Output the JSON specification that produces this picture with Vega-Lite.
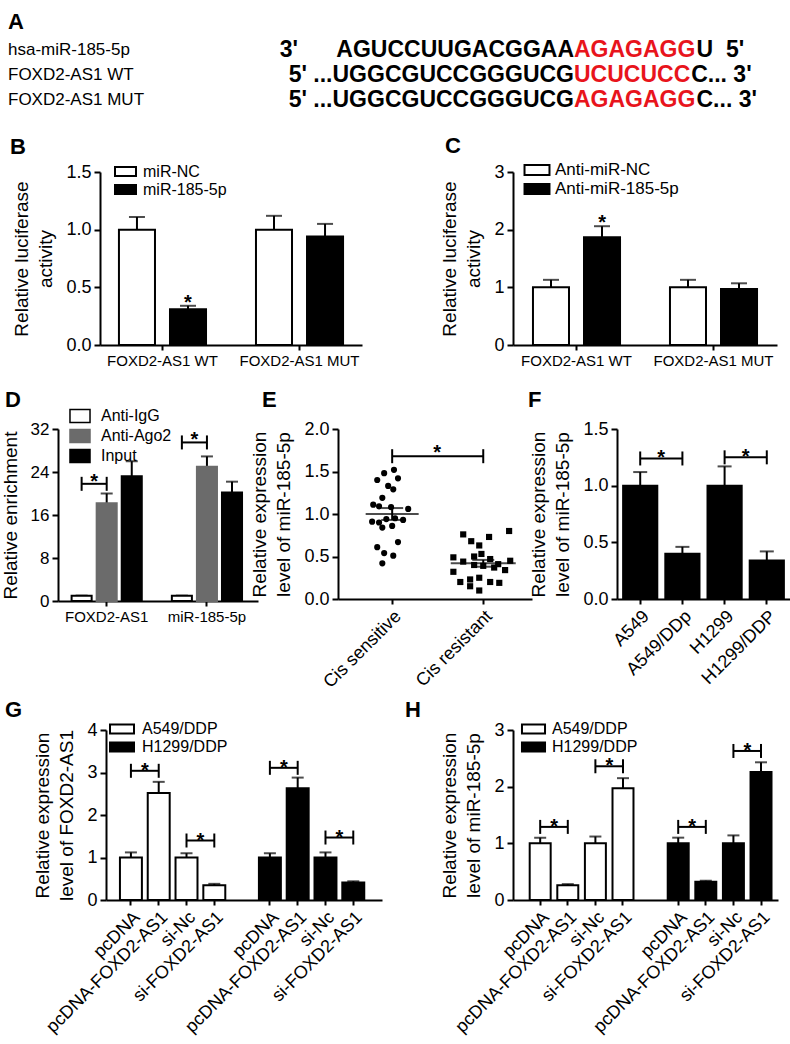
{
"$schema": "https://vega.github.io/schema/vega-lite/v6.json",
"padding": 0,
"background": "white",
"spacing": 0,
"resolve": {"scale": {"fill": "independent", "stroke": "independent", "shape": "independent", "size": "independent", "xOffset": "independent"}, "legend": {"fill": "independent", "stroke": "independent", "shape": "independent", "size": "independent"}},
"config": {
  "font": "Liberation Sans, Arial, sans-serif",
  "view": {"stroke": null},
  "axis": {"grid": false, "domainColor": "black", "domainWidth": 2, "tickColor": "black", "tickWidth": 2, "tickSize": 6, "labelColor": "black", "labelFontSize": 17, "labelPadding": 3, "titleColor": "black", "titleFontSize": 19, "titleFontWeight": "normal", "titleLineHeight": 24, "titlePadding": 10},
  "axisX": {"labelFontSize": 15, "tickSize": 5},
  "axisY": {"labelFontSize": 18},
  "legend": {"labelColor": "black", "labelFontSize": 16, "symbolStrokeColor": "black", "symbolStrokeWidth": 2, "rowPadding": 0, "padding": 0, "labelOffset": 6},
  "title": {"fontSize": 22, "fontWeight": "bold", "anchor": "start", "frame": "group", "color": "black", "offset": 8},
  "text": {"color": "black"}
},
"datasets": {
  "seq": [
    {"name": "hsa-miR-185-5p", "line": 1, "lead": "3'\u00a0\u00a0\u00a0\u00a0\u00a0\u00a0AGUCCUUGACGGAA", "site": "AGAGAGG", "tail": "U\u00a0\u00a05'"},
    {"name": "FOXD2-AS1 WT", "line": 2, "lead": "5'\u00a0...UGGCGUCCGGGUCG", "site": "UCUCUCC", "tail": "C...\u00a03'"},
    {"name": "FOXD2-AS1 MUT", "line": 3, "lead": "5'\u00a0...UGGCGUCCGGGUCG", "site": "AGAGAGG", "tail": "C...\u00a03'"}
  ],
  "dData": [
    {"key": "FOXD2-AS1|Anti-IgG", "ab": "Anti-IgG", "value": 1.0, "upper": 1.0},
    {"key": "FOXD2-AS1|Anti-Ago2", "ab": "Anti-Ago2", "value": 18.2, "upper": 20.0},
    {"key": "FOXD2-AS1|Input", "ab": "Input", "value": 23.2, "upper": 26.0},
    {"key": "miR-185-5p|Anti-IgG", "ab": "Anti-IgG", "value": 1.0, "upper": 1.0},
    {"key": "miR-185-5p|Anti-Ago2", "ab": "Anti-Ago2", "value": 25.0, "upper": 26.9},
    {"key": "miR-185-5p|Input", "ab": "Input", "value": 20.2, "upper": 22.2}
  ],
  "dBr": [
    {"id": "d1", "key": "FOXD2-AS1|Anti-IgG", "end": "L", "y": 21.8},
    {"id": "d1", "key": "FOXD2-AS1|Anti-Ago2", "end": "R", "y": 21.8},
    {"id": "d2", "key": "miR-185-5p|Anti-IgG", "end": "L", "y": 29.5},
    {"id": "d2", "key": "miR-185-5p|Anti-Ago2", "end": "R", "y": 29.5}
  ],
  "ePts": [
    {"cat": "Cis sensitive", "jit": -0.22, "val": 1.48},
    {"cat": "Cis sensitive", "jit": 0.05, "val": 1.52},
    {"cat": "Cis sensitive", "jit": -0.41, "val": 1.40},
    {"cat": "Cis sensitive", "jit": 0.16, "val": 1.42},
    {"cat": "Cis sensitive", "jit": -0.11, "val": 1.33},
    {"cat": "Cis sensitive", "jit": 0.03, "val": 1.29},
    {"cat": "Cis sensitive", "jit": -0.27, "val": 1.19},
    {"cat": "Cis sensitive", "jit": -0.52, "val": 1.11},
    {"cat": "Cis sensitive", "jit": -0.36, "val": 1.09},
    {"cat": "Cis sensitive", "jit": -0.03, "val": 1.08},
    {"cat": "Cis sensitive", "jit": 0.44, "val": 1.06},
    {"cat": "Cis sensitive", "jit": -0.55, "val": 0.91},
    {"cat": "Cis sensitive", "jit": -0.36, "val": 0.90},
    {"cat": "Cis sensitive", "jit": -0.16, "val": 0.94},
    {"cat": "Cis sensitive", "jit": 0.08, "val": 0.95},
    {"cat": "Cis sensitive", "jit": 0.30, "val": 0.93},
    {"cat": "Cis sensitive", "jit": -0.27, "val": 0.84},
    {"cat": "Cis sensitive", "jit": 0.0, "val": 0.86},
    {"cat": "Cis sensitive", "jit": -0.41, "val": 0.61},
    {"cat": "Cis sensitive", "jit": 0.16, "val": 0.67},
    {"cat": "Cis sensitive", "jit": -0.22, "val": 0.54},
    {"cat": "Cis sensitive", "jit": 0.03, "val": 0.51},
    {"cat": "Cis sensitive", "jit": -0.27, "val": 0.42},
    {"cat": "Cis resistant", "jit": -0.55, "val": 0.76},
    {"cat": "Cis resistant", "jit": 0.16, "val": 0.73},
    {"cat": "Cis resistant", "jit": 0.71, "val": 0.80},
    {"cat": "Cis resistant", "jit": -0.33, "val": 0.68},
    {"cat": "Cis resistant", "jit": -0.11, "val": 0.63},
    {"cat": "Cis resistant", "jit": -0.82, "val": 0.49},
    {"cat": "Cis resistant", "jit": -0.25, "val": 0.50},
    {"cat": "Cis resistant", "jit": -0.05, "val": 0.53},
    {"cat": "Cis resistant", "jit": 0.19, "val": 0.47},
    {"cat": "Cis resistant", "jit": 0.74, "val": 0.45},
    {"cat": "Cis resistant", "jit": -0.55, "val": 0.44},
    {"cat": "Cis resistant", "jit": 0.41, "val": 0.41},
    {"cat": "Cis resistant", "jit": -0.82, "val": 0.32},
    {"cat": "Cis resistant", "jit": -0.25, "val": 0.40},
    {"cat": "Cis resistant", "jit": 0.0, "val": 0.39},
    {"cat": "Cis resistant", "jit": 0.30, "val": 0.37},
    {"cat": "Cis resistant", "jit": 0.60, "val": 0.34},
    {"cat": "Cis resistant", "jit": -0.63, "val": 0.20},
    {"cat": "Cis resistant", "jit": -0.36, "val": 0.23},
    {"cat": "Cis resistant", "jit": -0.11, "val": 0.25},
    {"cat": "Cis resistant", "jit": 0.19, "val": 0.20},
    {"cat": "Cis resistant", "jit": 0.44, "val": 0.19},
    {"cat": "Cis resistant", "jit": -0.36, "val": 0.15},
    {"cat": "Cis resistant", "jit": -0.11, "val": 0.10}
  ],
  "eSum": [
    {"cat": "Cis sensitive", "mean": 1.0, "lo": 0.93, "hi": 1.07},
    {"cat": "Cis resistant", "mean": 0.42, "lo": 0.38, "hi": 0.46}
  ],
  "eBr": [
    {"id": "e1", "cat": "Cis sensitive", "end": "L", "y": 1.68},
    {"id": "e1", "cat": "Cis resistant", "end": "R", "y": 1.68}
  ],
  "fData": [
    {"cell": "A549", "value": 1.0, "upper": 1.12},
    {"cell": "A549/DDp", "value": 0.40, "upper": 0.46},
    {"cell": "H1299", "value": 1.0, "upper": 1.17},
    {"cell": "H1299/DDP", "value": 0.34, "upper": 0.42}
  ],
  "fBr": [
    {"id": "f1", "cell": "A549", "end": "L", "y": 1.24},
    {"id": "f1", "cell": "A549/DDp", "end": "R", "y": 1.24},
    {"id": "f2", "cell": "H1299", "end": "L", "y": 1.25},
    {"id": "f2", "cell": "H1299/DDP", "end": "R", "y": 1.25}
  ],
  "gData": [
    {"key": "A549/DDP|pcDNA", "line": "A549/DDP", "value": 1.0, "upper": 1.12},
    {"key": "A549/DDP|pcDNA-FOXD2-AS1", "line": "A549/DDP", "value": 2.52, "upper": 2.78},
    {"key": "A549/DDP|si-Nc", "line": "A549/DDP", "value": 1.0, "upper": 1.10},
    {"key": "A549/DDP|si-FOXD2-AS1", "line": "A549/DDP", "value": 0.35, "upper": 0.38},
    {"key": "H1299/DDP|pcDNA", "line": "H1299/DDP", "value": 1.0, "upper": 1.10},
    {"key": "H1299/DDP|pcDNA-FOXD2-AS1", "line": "H1299/DDP", "value": 2.63, "upper": 2.88},
    {"key": "H1299/DDP|si-Nc", "line": "H1299/DDP", "value": 1.0, "upper": 1.12},
    {"key": "H1299/DDP|si-FOXD2-AS1", "line": "H1299/DDP", "value": 0.41, "upper": 0.44}
  ],
  "gBr": [
    {"id": "g1", "key": "A549/DDP|pcDNA", "end": "L", "y": 3.04},
    {"id": "g1", "key": "A549/DDP|pcDNA-FOXD2-AS1", "end": "R", "y": 3.04},
    {"id": "g2", "key": "A549/DDP|si-Nc", "end": "L", "y": 1.40},
    {"id": "g2", "key": "A549/DDP|si-FOXD2-AS1", "end": "R", "y": 1.40},
    {"id": "g3", "key": "H1299/DDP|pcDNA", "end": "L", "y": 3.11},
    {"id": "g3", "key": "H1299/DDP|pcDNA-FOXD2-AS1", "end": "R", "y": 3.11},
    {"id": "g4", "key": "H1299/DDP|si-Nc", "end": "L", "y": 1.47},
    {"id": "g4", "key": "H1299/DDP|si-FOXD2-AS1", "end": "R", "y": 1.47}
  ],
  "hData": [
    {"key": "A549/DDP|pcDNA", "line": "A549/DDP", "value": 1.0, "upper": 1.10},
    {"key": "A549/DDP|pcDNA-FOXD2-AS1", "line": "A549/DDP", "value": 0.26, "upper": 0.28},
    {"key": "A549/DDP|si-Nc", "line": "A549/DDP", "value": 1.0, "upper": 1.12},
    {"key": "A549/DDP|si-FOXD2-AS1", "line": "A549/DDP", "value": 1.97, "upper": 2.15},
    {"key": "H1299/DDP|pcDNA", "line": "H1299/DDP", "value": 1.0, "upper": 1.10},
    {"key": "H1299/DDP|pcDNA-FOXD2-AS1", "line": "H1299/DDP", "value": 0.32, "upper": 0.34},
    {"key": "H1299/DDP|si-Nc", "line": "H1299/DDP", "value": 1.0, "upper": 1.14},
    {"key": "H1299/DDP|si-FOXD2-AS1", "line": "H1299/DDP", "value": 2.26, "upper": 2.43}
  ],
  "hBr": [
    {"id": "h1", "key": "A549/DDP|pcDNA", "end": "L", "y": 1.29},
    {"id": "h1", "key": "A549/DDP|pcDNA-FOXD2-AS1", "end": "R", "y": 1.29},
    {"id": "h2", "key": "A549/DDP|si-Nc", "end": "L", "y": 2.36},
    {"id": "h2", "key": "A549/DDP|si-FOXD2-AS1", "end": "R", "y": 2.36},
    {"id": "h3", "key": "H1299/DDP|pcDNA", "end": "L", "y": 1.29},
    {"id": "h3", "key": "H1299/DDP|pcDNA-FOXD2-AS1", "end": "R", "y": 1.29},
    {"id": "h4", "key": "H1299/DDP|si-Nc", "end": "L", "y": 2.63},
    {"id": "h4", "key": "H1299/DDP|si-FOXD2-AS1", "end": "R", "y": 2.63}
  ]
},
"vconcat": [
  {
    "width": 760, "height": 134,
    "layer": [
      {"data": {"values": [{"letter": "A"}]},
       "mark": {"type": "text", "fontSize": 22, "fontWeight": "bold", "align": "left", "baseline": "middle", "dy": -3},
       "encoding": {"text": {"field": "letter"},
         "x": {"datum": 0, "type": "quantitative", "scale": {"domain": [0, 1], "range": [8, 574]}, "axis": null},
         "y": {"datum": 0, "type": "quantitative", "scale": {"domain": [0, 3], "range": [25, 100]}, "axis": null}}},
      {"data": {"name": "seq"},
       "mark": {"type": "text", "fontSize": 17, "align": "left", "baseline": "middle"},
       "encoding": {"text": {"field": "name"},
         "x": {"datum": 0, "type": "quantitative", "scale": {"domain": [0, 1], "range": [8, 574]}, "axis": null},
         "y": {"field": "line", "type": "quantitative", "scale": {"domain": [0, 3], "range": [25, 100]}, "axis": null}}},
      {"data": {"name": "seq"},
       "mark": {"type": "text", "fontSize": 23, "fontWeight": "bold", "align": "right", "baseline": "middle", "color": "black"},
       "encoding": {"text": {"field": "lead"},
         "x": {"datum": 1, "type": "quantitative", "scale": {"domain": [0, 1], "range": [8, 574]}, "axis": null},
         "y": {"field": "line", "type": "quantitative", "scale": {"domain": [0, 3], "range": [25, 100]}, "axis": null}}},
      {"data": {"name": "seq"},
       "mark": {"type": "text", "fontSize": 23, "fontWeight": "bold", "align": "left", "baseline": "middle", "color": "#e8141c"},
       "encoding": {"text": {"field": "site"},
         "x": {"datum": 1, "type": "quantitative", "scale": {"domain": [0, 1], "range": [8, 574]}, "axis": null},
         "y": {"field": "line", "type": "quantitative", "scale": {"domain": [0, 3], "range": [25, 100]}, "axis": null}}},
      {"data": {"name": "seq"}, "transform": [{"filter": "datum.site == 'AGAGAGG'"}],
       "mark": {"type": "text", "fontSize": 23, "fontWeight": "bold", "align": "left", "baseline": "middle", "color": "black", "dx": 122.5},
       "encoding": {"text": {"field": "tail"},
         "x": {"datum": 1, "type": "quantitative", "scale": {"domain": [0, 1], "range": [8, 574]}, "axis": null},
         "y": {"field": "line", "type": "quantitative", "scale": {"domain": [0, 3], "range": [25, 100]}, "axis": null}}},
      {"data": {"name": "seq"}, "transform": [{"filter": "datum.site == 'UCUCUCC'"}],
       "mark": {"type": "text", "fontSize": 23, "fontWeight": "bold", "align": "left", "baseline": "middle", "color": "black", "dx": 117.2},
       "encoding": {"text": {"field": "tail"},
         "x": {"datum": 1, "type": "quantitative", "scale": {"domain": [0, 1], "range": [8, 574]}, "axis": null},
         "y": {"field": "line", "type": "quantitative", "scale": {"domain": [0, 3], "range": [25, 100]}, "axis": null}}}
    ]
  },
  {
    "spacing": 0, "bounds": "flush",
    "resolve": {"scale": {"fill": "independent", "stroke": "independent", "shape": "independent", "size": "independent", "xOffset": "independent"}, "legend": {"fill": "independent", "stroke": "independent", "shape": "independent", "size": "independent"}},
    "hconcat": [
      {"width": 100, "height": 217, "data": {"values": [{}]}, "mark": {"type": "point", "opacity": 0}},
      {
        "width": 262, "height": 173,
        "title": {"text": "B", "dx": -90, "offset": 4},
        "data": {"values": [
          {"group": "FOXD2-AS1 WT", "treat": "miR-NC", "value": 1.0, "upper": 1.11},
          {"group": "FOXD2-AS1 WT", "treat": "miR-185-5p", "value": 0.31, "upper": 0.34, "sig": "*"},
          {"group": "FOXD2-AS1 MUT", "treat": "miR-NC", "value": 1.0, "upper": 1.12},
          {"group": "FOXD2-AS1 MUT", "treat": "miR-185-5p", "value": 0.94, "upper": 1.05}
        ]},
        "encoding": {
          "x": {"field": "group", "type": "nominal", "sort": ["FOXD2-AS1 WT", "FOXD2-AS1 MUT"], "scale": {"paddingInner": 0.255, "paddingOuter": 0.0835}, "axis": {"title": null, "labelAngle": 0}},
          "xOffset": {"field": "treat", "type": "nominal", "sort": ["miR-NC", "miR-185-5p"], "scale": {"paddingInner": 0.294, "paddingOuter": 0.147}}
        },
        "layer": [
          {"mark": {"type": "rule", "color": "black", "strokeWidth": 2},
           "encoding": {"y": {"field": "value", "type": "quantitative", "scale": {"domain": [0, 1.5]}, "axis": {"values": [0, 0.5, 1, 1.5], "format": ".1f", "title": ["Relative luciferase", "activity"]}}, "y2": {"field": "upper"}}},
          {"mark": {"type": "tick", "color": "black", "thickness": 2, "size": 16},
           "encoding": {"y": {"field": "upper", "type": "quantitative", "scale": {"domain": [0, 1.5]}, "axis": {"values": [0, 0.5, 1, 1.5], "format": ".1f", "title": ["Relative luciferase", "activity"]}}}},
          {"mark": {"type": "bar", "stroke": "black", "strokeWidth": 2},
           "encoding": {"y": {"field": "value", "type": "quantitative", "scale": {"domain": [0, 1.5]}, "axis": {"values": [0, 0.5, 1, 1.5], "format": ".1f", "title": ["Relative luciferase", "activity"]}},
             "fill": {"field": "treat", "type": "nominal", "scale": {"domain": ["miR-NC", "miR-185-5p"], "range": ["white", "black"]},
               "legend": {"orient": "none", "legendX": 17.5, "legendY": -8.5, "title": null, "symbolType": "M-1.75,-0.75H1.75V0.75H-1.75Z", "symbolSize": 144, "symbolStrokeColor": "black", "symbolStrokeWidth": 2, "labelFontSize": 16, "labelOffset": 9.5, "rowPadding": 0}}}},
          {"transform": [{"filter": "datum.sig"}],
           "mark": {"type": "text", "text": "*", "dy": -3, "fontSize": 20, "fontWeight": "bold", "baseline": "middle"},
           "encoding": {"y": {"field": "upper", "type": "quantitative", "scale": {"domain": [0, 1.5]}, "axis": {"values": [0, 0.5, 1, 1.5], "format": ".1f", "title": ["Relative luciferase", "activity"]}}}}
        ]
      },
      {"width": 151, "height": 10, "data": {"values": [{}]}, "mark": {"type": "point", "opacity": 0}},
      {
        "width": 264, "height": 173,
        "title": {"text": "C", "dx": -68, "offset": 4},
        "data": {"values": [
          {"group": "FOXD2-AS1 WT", "treat": "Anti-miR-NC", "value": 1.0, "upper": 1.13},
          {"group": "FOXD2-AS1 WT", "treat": "Anti-miR-185-5p", "value": 1.87, "upper": 2.06, "sig": "*"},
          {"group": "FOXD2-AS1 MUT", "treat": "Anti-miR-NC", "value": 1.0, "upper": 1.13},
          {"group": "FOXD2-AS1 MUT", "treat": "Anti-miR-185-5p", "value": 0.97, "upper": 1.07}
        ]},
        "encoding": {
          "x": {"field": "group", "type": "nominal", "sort": ["FOXD2-AS1 WT", "FOXD2-AS1 MUT"], "scale": {"paddingInner": 0.255, "paddingOuter": 0.091}, "axis": {"title": null, "labelAngle": 0}},
          "xOffset": {"field": "treat", "type": "nominal", "sort": ["Anti-miR-NC", "Anti-miR-185-5p"], "scale": {"paddingInner": 0.294, "paddingOuter": 0.147}}
        },
        "layer": [
          {"mark": {"type": "rule", "color": "black", "strokeWidth": 2},
           "encoding": {"y": {"field": "value", "type": "quantitative", "scale": {"domain": [0, 3]}, "axis": {"values": [0, 1, 2, 3], "format": "d", "title": ["Relative luciferase", "activity"]}}, "y2": {"field": "upper"}}},
          {"mark": {"type": "tick", "color": "black", "thickness": 2, "size": 16},
           "encoding": {"y": {"field": "upper", "type": "quantitative", "scale": {"domain": [0, 3]}, "axis": {"values": [0, 1, 2, 3], "format": "d", "title": ["Relative luciferase", "activity"]}}}},
          {"mark": {"type": "bar", "stroke": "black", "strokeWidth": 2},
           "encoding": {"y": {"field": "value", "type": "quantitative", "scale": {"domain": [0, 3]}, "axis": {"values": [0, 1, 2, 3], "format": "d", "title": ["Relative luciferase", "activity"]}},
             "fill": {"field": "treat", "type": "nominal", "scale": {"domain": ["Anti-miR-NC", "Anti-miR-185-5p"], "range": ["white", "black"]},
               "legend": {"orient": "none", "legendX": 15.5, "legendY": -10.5, "title": null, "symbolType": "M-2.08,-0.83H2.08V0.83H-2.08Z", "symbolSize": 144, "symbolStrokeColor": "black", "symbolStrokeWidth": 2, "labelFontSize": 17, "labelOffset": 9.5, "rowPadding": 0}}}},
          {"transform": [{"filter": "datum.sig"}],
           "mark": {"type": "text", "text": "*", "dy": -3, "fontSize": 20, "fontWeight": "bold", "baseline": "middle"},
           "encoding": {"y": {"field": "upper", "type": "quantitative", "scale": {"domain": [0, 3]}, "axis": {"values": [0, 1, 2, 3], "format": "d", "title": ["Relative luciferase", "activity"]}}}}
        ]
      }
    ]
  },
  {
    "spacing": 0, "bounds": "flush",
    "resolve": {"scale": {"fill": "independent", "stroke": "independent", "shape": "independent", "size": "independent", "xOffset": "independent"}, "legend": {"fill": "independent", "stroke": "independent", "shape": "independent", "size": "independent"}},
    "hconcat": [
      {"width": 58, "height": 270, "data": {"values": [{}]}, "mark": {"type": "point", "opacity": 0}},
      {
        "width": 200, "height": 172,
        "title": {"text": "D", "dx": -53, "offset": -4},
        "encoding": {
          "x": {"field": "key", "type": "nominal", "scale": {"domain": ["FOXD2-AS1|Anti-IgG", "FOXD2-AS1|Anti-Ago2", "FOXD2-AS1|Input", "gap", "miR-185-5p|Anti-IgG", "miR-185-5p|Anti-Ago2", "miR-185-5p|Input"], "paddingInner": 0.2, "paddingOuter": 0.59, "align": 0.46},
            "axis": {"title": null, "labelAngle": 0, "values": ["FOXD2-AS1|Anti-Ago2", "miR-185-5p|Anti-Ago2"], "labelExpr": "split(datum.value, '|')[0]"}}
        },
        "layer": [
          {"data": {"name": "dData"}, "mark": {"type": "rule", "color": "black", "strokeWidth": 2},
           "encoding": {"y": {"field": "value", "type": "quantitative", "scale": {"domain": [0, 32]}, "axis": {"values": [0, 8, 16, 24, 32], "format": "d", "labelFontSize": 17, "title": "Relative enrichment"}}, "y2": {"field": "upper"}}},
          {"data": {"name": "dData"}, "mark": {"type": "tick", "color": "black", "thickness": 2, "size": 12},
           "encoding": {"y": {"field": "upper", "type": "quantitative", "scale": {"domain": [0, 32]}, "axis": {"values": [0, 8, 16, 24, 32], "format": "d", "labelFontSize": 17, "title": "Relative enrichment"}}}},
          {"data": {"name": "dData"}, "mark": {"type": "bar", "strokeWidth": 2},
           "encoding": {"y": {"field": "value", "type": "quantitative", "scale": {"domain": [0, 32]}, "axis": {"values": [0, 8, 16, 24, 32], "format": "d", "labelFontSize": 17, "title": "Relative enrichment"}},
             "fill": {"field": "ab", "type": "nominal", "scale": {"domain": ["Anti-IgG", "Anti-Ago2", "Input"], "range": ["white", "#6b6b6b", "black"]},
               "legend": {"orient": "none", "legendX": 14, "legendY": -21, "title": null, "symbolType": "M-1.67,-1.08H1.67V1.08H-1.67Z", "symbolSize": 144, "symbolStrokeColor": "black", "symbolStrokeWidth": 1.5, "labelFontSize": 16, "labelOffset": 13, "rowPadding": 0}},
             "stroke": {"field": "ab", "type": "nominal", "scale": {"domain": ["Anti-IgG", "Anti-Ago2", "Input"], "range": ["black", "#6b6b6b", "black"]}, "legend": null}}},
          {"data": {"name": "dBr"}, "mark": {"type": "line", "color": "black", "strokeWidth": 2},
           "encoding": {"y": {"field": "y", "type": "quantitative", "scale": {"domain": [0, 32]}, "axis": {"values": [0, 8, 16, 24, 32], "format": "d", "labelFontSize": 17, "title": "Relative enrichment"}}, "detail": {"field": "id"}}},
          {"data": {"name": "dBr"}, "mark": {"type": "rule", "color": "black", "strokeWidth": 2, "yOffset": -7, "y2Offset": 7},
           "encoding": {"y": {"field": "y", "type": "quantitative", "scale": {"domain": [0, 32]}, "axis": {"values": [0, 8, 16, 24, 32], "format": "d", "labelFontSize": 17, "title": "Relative enrichment"}}, "y2": {"field": "y"}}},
          {"data": {"name": "dBr"}, "transform": [{"filter": "datum.end == 'L'"}],
           "mark": {"type": "text", "text": "*", "dx": 12.5, "dy": -2, "fontSize": 20, "fontWeight": "bold", "baseline": "middle"},
           "encoding": {"y": {"field": "y", "type": "quantitative", "scale": {"domain": [0, 32]}, "axis": {"values": [0, 8, 16, 24, 32], "format": "d", "labelFontSize": 17, "title": "Relative enrichment"}}}}
        ]
      },
      {"width": 80, "height": 10, "data": {"values": [{}]}, "mark": {"type": "point", "opacity": 0}},
      {
        "width": 194, "height": 170,
        "title": {"text": "E", "dx": -76},
        "encoding": {
          "x": {"field": "cat", "type": "nominal", "scale": {"domain": ["Cis sensitive", "Cis resistant"], "paddingInner": 0.2, "paddingOuter": 0.165, "align": 0.59},
            "axis": {"title": null, "labelAngle": -45, "labelFontSize": 18}}
        },
        "layer": [
          {"data": {"name": "eBr"}, "mark": {"type": "line", "color": "black", "strokeWidth": 2},
           "encoding": {"y": {"field": "y", "type": "quantitative", "scale": {"domain": [0, 2]}, "axis": {"values": [0, 0.5, 1, 1.5, 2], "format": ".1f", "title": ["Relative expression", "level of miR-185-5p"]}}, "detail": {"field": "id"}}},
          {"data": {"name": "eBr"}, "mark": {"type": "rule", "color": "black", "strokeWidth": 2, "yOffset": -7, "y2Offset": 7},
           "encoding": {"y": {"field": "y", "type": "quantitative", "scale": {"domain": [0, 2]}, "axis": {"values": [0, 0.5, 1, 1.5, 2], "format": ".1f", "title": ["Relative expression", "level of miR-185-5p"]}}, "y2": {"field": "y"}}},
          {"data": {"name": "eBr"}, "transform": [{"filter": "datum.end == 'L'"}],
           "mark": {"type": "text", "text": "*", "dx": 45, "dy": -3, "fontSize": 20, "fontWeight": "bold", "baseline": "middle"},
           "encoding": {"y": {"field": "y", "type": "quantitative", "scale": {"domain": [0, 2]}, "axis": {"values": [0, 0.5, 1, 1.5, 2], "format": ".1f", "title": ["Relative expression", "level of miR-185-5p"]}}}},
          {"data": {"name": "ePts"}, "mark": {"type": "point", "filled": true, "color": "black", "opacity": 1, "size": 38},
           "encoding": {"y": {"field": "val", "type": "quantitative", "scale": {"domain": [0, 2]}, "axis": {"values": [0, 0.5, 1, 1.5, 2], "format": ".1f", "title": ["Relative expression", "level of miR-185-5p"]}},
             "xOffset": {"field": "jit", "type": "quantitative", "scale": {"domain": [-1, 1]}},
             "shape": {"field": "cat", "type": "nominal", "scale": {"domain": ["Cis sensitive", "Cis resistant"], "range": ["circle", "square"]}, "legend": null}}},
          {"data": {"name": "eSum"}, "mark": {"type": "tick", "color": "black", "thickness": 2},
           "encoding": {"y": {"field": "mean", "type": "quantitative", "scale": {"domain": [0, 2]}, "axis": {"values": [0, 0.5, 1, 1.5, 2], "format": ".1f", "title": ["Relative expression", "level of miR-185-5p"]}},
             "size": {"field": "cat", "type": "ordinal", "scale": {"domain": ["Cis sensitive", "Cis resistant"], "range": [53, 65]}, "legend": null}}},
          {"data": {"name": "eSum"}, "mark": {"type": "rule", "color": "black", "strokeWidth": 2},
           "encoding": {"y": {"field": "lo", "type": "quantitative", "scale": {"domain": [0, 2]}, "axis": {"values": [0, 0.5, 1, 1.5, 2], "format": ".1f", "title": ["Relative expression", "level of miR-185-5p"]}}, "y2": {"field": "hi"}}},
          {"data": {"name": "eSum"}, "mark": {"type": "tick", "color": "black", "thickness": 2, "size": 22},
           "encoding": {"y": {"field": "lo", "type": "quantitative", "scale": {"domain": [0, 2]}, "axis": {"values": [0, 0.5, 1, 1.5, 2], "format": ".1f", "title": ["Relative expression", "level of miR-185-5p"]}}}},
          {"data": {"name": "eSum"}, "mark": {"type": "tick", "color": "black", "thickness": 2, "size": 22},
           "encoding": {"y": {"field": "hi", "type": "quantitative", "scale": {"domain": [0, 2]}, "axis": {"values": [0, 0.5, 1, 1.5, 2], "format": ".1f", "title": ["Relative expression", "level of miR-185-5p"]}}}}
        ]
      },
      {"width": 85, "height": 10, "data": {"values": [{}]}, "mark": {"type": "point", "opacity": 0}},
      {
        "width": 173, "height": 170,
        "title": {"text": "F", "dx": -89},
        "encoding": {
          "x": {"field": "cell", "type": "nominal", "scale": {"domain": ["A549", "A549/DDp", "H1299", "H1299/DDP"], "paddingInner": 0.19, "paddingOuter": 0.145, "align": 0.5},
            "axis": {"title": null, "labelAngle": -45, "labelFontSize": 18}}
        },
        "layer": [
          {"data": {"name": "fData"}, "mark": {"type": "rule", "color": "black", "strokeWidth": 2},
           "encoding": {"y": {"field": "value", "type": "quantitative", "scale": {"domain": [0, 1.5]}, "axis": {"values": [0, 0.5, 1, 1.5], "format": ".1f", "title": ["Relative expression", "level of miR-185-5p"]}}, "y2": {"field": "upper"}}},
          {"data": {"name": "fData"}, "mark": {"type": "tick", "color": "black", "thickness": 2, "size": 14},
           "encoding": {"y": {"field": "upper", "type": "quantitative", "scale": {"domain": [0, 1.5]}, "axis": {"values": [0, 0.5, 1, 1.5], "format": ".1f", "title": ["Relative expression", "level of miR-185-5p"]}}}},
          {"data": {"name": "fData"}, "mark": {"type": "bar", "fill": "black", "stroke": "black", "strokeWidth": 2},
           "encoding": {"y": {"field": "value", "type": "quantitative", "scale": {"domain": [0, 1.5]}, "axis": {"values": [0, 0.5, 1, 1.5], "format": ".1f", "title": ["Relative expression", "level of miR-185-5p"]}}}},
          {"data": {"name": "fBr"}, "mark": {"type": "line", "color": "black", "strokeWidth": 2},
           "encoding": {"y": {"field": "y", "type": "quantitative", "scale": {"domain": [0, 1.5]}, "axis": {"values": [0, 0.5, 1, 1.5], "format": ".1f", "title": ["Relative expression", "level of miR-185-5p"]}}, "detail": {"field": "id"}}},
          {"data": {"name": "fBr"}, "mark": {"type": "rule", "color": "black", "strokeWidth": 2, "yOffset": -7, "y2Offset": 7},
           "encoding": {"y": {"field": "y", "type": "quantitative", "scale": {"domain": [0, 1.5]}, "axis": {"values": [0, 0.5, 1, 1.5], "format": ".1f", "title": ["Relative expression", "level of miR-185-5p"]}}, "y2": {"field": "y"}}},
          {"data": {"name": "fBr"}, "transform": [{"filter": "datum.end == 'L'"}],
           "mark": {"type": "text", "text": "*", "dx": 21, "dy": 0, "fontSize": 20, "fontWeight": "bold", "baseline": "middle"},
           "encoding": {"y": {"field": "y", "type": "quantitative", "scale": {"domain": [0, 1.5]}, "axis": {"values": [0, 0.5, 1, 1.5], "format": ".1f", "title": ["Relative expression", "level of miR-185-5p"]}}}}
        ]
      }
    ]
  },
  {
    "spacing": 0, "bounds": "flush",
    "resolve": {"scale": {"fill": "independent", "stroke": "independent", "shape": "independent", "size": "independent", "xOffset": "independent"}, "legend": {"fill": "independent", "stroke": "independent", "shape": "independent", "size": "independent"}},
    "hconcat": [
      {"width": 106, "height": 250, "data": {"values": [{}]}, "mark": {"type": "point", "opacity": 0}},
      {
        "width": 276, "height": 170,
        "title": {"text": "G", "dx": -101, "offset": -1},
        "encoding": {
          "x": {"field": "key", "type": "nominal", "scale": {"domain": ["A549/DDP|pcDNA", "A549/DDP|pcDNA-FOXD2-AS1", "A549/DDP|si-Nc", "A549/DDP|si-FOXD2-AS1", "gap", "H1299/DDP|pcDNA", "H1299/DDP|pcDNA-FOXD2-AS1", "H1299/DDP|si-Nc", "H1299/DDP|si-FOXD2-AS1"], "paddingInner": 0.21, "paddingOuter": 0.57, "align": 0.44},
            "axis": {"title": null, "labelAngle": -45, "labelFontSize": 18, "values": ["A549/DDP|pcDNA", "A549/DDP|pcDNA-FOXD2-AS1", "A549/DDP|si-Nc", "A549/DDP|si-FOXD2-AS1", "H1299/DDP|pcDNA", "H1299/DDP|pcDNA-FOXD2-AS1", "H1299/DDP|si-Nc", "H1299/DDP|si-FOXD2-AS1"], "labelExpr": "split(datum.value, '|')[1]"}}
        },
        "layer": [
          {"data": {"name": "gData"}, "mark": {"type": "rule", "color": "black", "strokeWidth": 2},
           "encoding": {"y": {"field": "value", "type": "quantitative", "scale": {"domain": [0, 4]}, "axis": {"values": [0, 1, 2, 3, 4], "format": "d", "title": ["Relative expression", "level of FOXD2-AS1"]}}, "y2": {"field": "upper"}}},
          {"data": {"name": "gData"}, "mark": {"type": "tick", "color": "black", "thickness": 2, "size": 12},
           "encoding": {"y": {"field": "upper", "type": "quantitative", "scale": {"domain": [0, 4]}, "axis": {"values": [0, 1, 2, 3, 4], "format": "d", "title": ["Relative expression", "level of FOXD2-AS1"]}}}},
          {"data": {"name": "gData"}, "mark": {"type": "bar", "stroke": "black", "strokeWidth": 2},
           "encoding": {"y": {"field": "value", "type": "quantitative", "scale": {"domain": [0, 4]}, "axis": {"values": [0, 1, 2, 3, 4], "format": "d", "title": ["Relative expression", "level of FOXD2-AS1"]}},
             "fill": {"field": "line", "type": "nominal", "scale": {"domain": ["A549/DDP", "H1299/DDP"], "range": ["white", "black"]},
               "legend": {"orient": "none", "legendX": 8, "legendY": -9, "title": null, "symbolType": "M-2,-0.75H2V0.75H-2Z", "symbolSize": 144, "symbolStrokeColor": "black", "symbolStrokeWidth": 2, "labelFontSize": 16, "labelOffset": 12, "rowPadding": 0}}}},
          {"data": {"name": "gBr"}, "mark": {"type": "line", "color": "black", "strokeWidth": 2},
           "encoding": {"y": {"field": "y", "type": "quantitative", "scale": {"domain": [0, 4]}, "axis": {"values": [0, 1, 2, 3, 4], "format": "d", "title": ["Relative expression", "level of FOXD2-AS1"]}}, "detail": {"field": "id"}}},
          {"data": {"name": "gBr"}, "mark": {"type": "rule", "color": "black", "strokeWidth": 2, "yOffset": -7, "y2Offset": 7},
           "encoding": {"y": {"field": "y", "type": "quantitative", "scale": {"domain": [0, 4]}, "axis": {"values": [0, 1, 2, 3, 4], "format": "d", "title": ["Relative expression", "level of FOXD2-AS1"]}}, "y2": {"field": "y"}}},
          {"data": {"name": "gBr"}, "transform": [{"filter": "datum.end == 'L'"}],
           "mark": {"type": "text", "text": "*", "dx": 14, "dy": 0, "fontSize": 20, "fontWeight": "bold", "baseline": "middle"},
           "encoding": {"y": {"field": "y", "type": "quantitative", "scale": {"domain": [0, 4]}, "axis": {"values": [0, 1, 2, 3, 4], "format": "d", "title": ["Relative expression", "level of FOXD2-AS1"]}}}}
        ]
      },
      {"width": 131, "height": 10, "data": {"values": [{}]}, "mark": {"type": "point", "opacity": 0}},
      {
        "width": 265, "height": 170,
        "title": {"text": "H", "dx": -108, "offset": -1},
        "encoding": {
          "x": {"field": "key", "type": "nominal", "scale": {"domain": ["A549/DDP|pcDNA", "A549/DDP|pcDNA-FOXD2-AS1", "A549/DDP|si-Nc", "A549/DDP|si-FOXD2-AS1", "gap", "H1299/DDP|pcDNA", "H1299/DDP|pcDNA-FOXD2-AS1", "H1299/DDP|si-Nc", "H1299/DDP|si-FOXD2-AS1"], "paddingInner": 0.24, "paddingOuter": 0.42, "align": 0.72},
            "axis": {"title": null, "labelAngle": -45, "labelFontSize": 18, "values": ["A549/DDP|pcDNA", "A549/DDP|pcDNA-FOXD2-AS1", "A549/DDP|si-Nc", "A549/DDP|si-FOXD2-AS1", "H1299/DDP|pcDNA", "H1299/DDP|pcDNA-FOXD2-AS1", "H1299/DDP|si-Nc", "H1299/DDP|si-FOXD2-AS1"], "labelExpr": "split(datum.value, '|')[1]"}}
        },
        "layer": [
          {"data": {"name": "hData"}, "mark": {"type": "rule", "color": "black", "strokeWidth": 2},
           "encoding": {"y": {"field": "value", "type": "quantitative", "scale": {"domain": [0, 3]}, "axis": {"values": [0, 1, 2, 3], "format": "d", "title": ["Relative expression", "level of miR-185-5p"]}}, "y2": {"field": "upper"}}},
          {"data": {"name": "hData"}, "mark": {"type": "tick", "color": "black", "thickness": 2, "size": 12},
           "encoding": {"y": {"field": "upper", "type": "quantitative", "scale": {"domain": [0, 3]}, "axis": {"values": [0, 1, 2, 3], "format": "d", "title": ["Relative expression", "level of miR-185-5p"]}}}},
          {"data": {"name": "hData"}, "mark": {"type": "bar", "stroke": "black", "strokeWidth": 2},
           "encoding": {"y": {"field": "value", "type": "quantitative", "scale": {"domain": [0, 3]}, "axis": {"values": [0, 1, 2, 3], "format": "d", "title": ["Relative expression", "level of miR-185-5p"]}},
             "fill": {"field": "line", "type": "nominal", "scale": {"domain": ["A549/DDP", "H1299/DDP"], "range": ["white", "black"]},
               "legend": {"orient": "none", "legendX": 12.5, "legendY": -9, "title": null, "symbolType": "M-1.92,-0.75H1.92V0.75H-1.92Z", "symbolSize": 144, "symbolStrokeColor": "black", "symbolStrokeWidth": 2, "labelFontSize": 16, "labelOffset": 10.5, "rowPadding": 0}}}},
          {"data": {"name": "hBr"}, "mark": {"type": "line", "color": "black", "strokeWidth": 2},
           "encoding": {"y": {"field": "y", "type": "quantitative", "scale": {"domain": [0, 3]}, "axis": {"values": [0, 1, 2, 3], "format": "d", "title": ["Relative expression", "level of miR-185-5p"]}}, "detail": {"field": "id"}}},
          {"data": {"name": "hBr"}, "mark": {"type": "rule", "color": "black", "strokeWidth": 2, "yOffset": -7, "y2Offset": 7},
           "encoding": {"y": {"field": "y", "type": "quantitative", "scale": {"domain": [0, 3]}, "axis": {"values": [0, 1, 2, 3], "format": "d", "title": ["Relative expression", "level of miR-185-5p"]}}, "y2": {"field": "y"}}},
          {"data": {"name": "hBr"}, "transform": [{"filter": "datum.end == 'L'"}],
           "mark": {"type": "text", "text": "*", "dx": 14, "dy": 0, "fontSize": 20, "fontWeight": "bold", "baseline": "middle"},
           "encoding": {"y": {"field": "y", "type": "quantitative", "scale": {"domain": [0, 3]}, "axis": {"values": [0, 1, 2, 3], "format": "d", "title": ["Relative expression", "level of miR-185-5p"]}}}}
        ]
      }
    ]
  }
]
}
